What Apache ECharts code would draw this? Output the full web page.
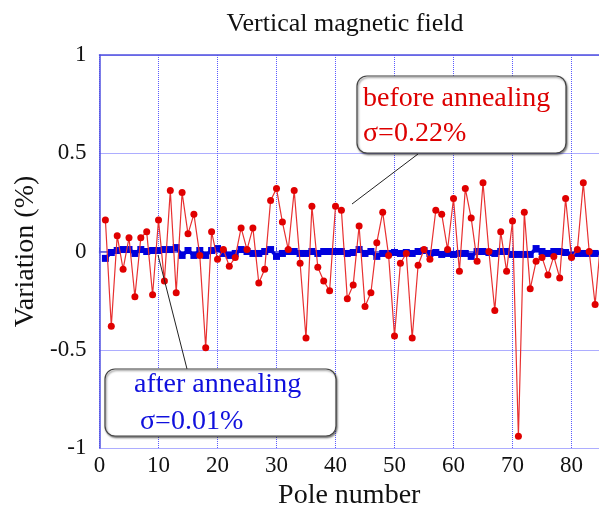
<!DOCTYPE html>
<html>
<head>
<meta charset="utf-8">
<script src="https://cdn.jsdelivr.net/npm/echarts@6/dist/echarts.min.js"></script>
<style>
html, body { margin: 0; padding: 0; background: #fff; }
#chart { width: 599px; height: 506px; }
</style>
</head>
<body>
<div id="chart"></div>
<script>
// variation (%) per pole
var beforeAnnealing = [
  0.16, -0.38, 0.08, -0.09, 0.07, -0.23, 0.07, 0.10, -0.22, 0.16,
  -0.15, 0.31, -0.21, 0.30, 0.09, 0.19, -0.02, -0.49, 0.10, -0.04,
  0.01, -0.075, -0.03, 0.12, 0.01, 0.12, -0.16, -0.09, 0.26, 0.32,
  0.15, 0.01, 0.31, -0.06, -0.44, 0.23, -0.08, -0.15, -0.20, 0.23,
  0.21, -0.24, -0.17, 0.13, -0.28, -0.21, 0.045, 0.20, -0.02, -0.43,
  -0.06, -0.01, -0.44, -0.07, 0.01, -0.04, 0.21, 0.19, 0.01, 0.27,
  -0.10, 0.32, 0.17, -0.05, 0.35, 0.0, -0.30, 0.10, -0.10, 0.155,
  -0.94, 0.20, -0.19, -0.05, -0.03, -0.12, -0.025, -0.135, 0.27, -0.03,
  0.01, 0.35, 0.0, -0.27, 0.07
];
var afterAnnealing = [
  -0.035, -0.005, 0.005, 0.01, 0.01, -0.01, 0.01, 0.0, 0.005, 0.005,
  0.01, 0.01, 0.02, -0.02, 0.005, -0.02, 0.005, -0.02, 0.005, 0.015,
  -0.01, -0.02, -0.01, 0.01, 0.0, -0.01, -0.01, 0.0, 0.01, -0.025,
  -0.01, 0.0, 0.0, -0.01, -0.01, 0.0, -0.01, 0.0, 0.0, 0.0,
  0.0, -0.01, -0.005, 0.01, -0.01, 0.0, -0.025, -0.01, -0.01, -0.005,
  -0.01, -0.005, -0.01, 0.0, 0.005, -0.01, -0.005, -0.015, -0.01, -0.015,
  -0.01, -0.01, -0.025, 0.0, 0.0, -0.005, -0.01, 0.0, 0.0, -0.015,
  -0.015, -0.015, -0.015, 0.015, 0.0, -0.01, 0.0, 0.0, -0.005, -0.02,
  -0.01, -0.01, -0.01, -0.01, -0.01
];
var yTicks = [-1, -0.5, 0, 0.5, 1];
var xMax = 84.66; // the plot runs off the right edge of the picture

var serif = 'Liberation Serif';
var blueAxis = '#5050e0';

var myChart = echarts.init(document.getElementById('chart'));
myChart.setOption({
  backgroundColor: '#fff',
  animation: false,
  title: {
    text: 'Vertical magnetic field',
    left: 340,
    top: 6,
    textAlign: 'center',
    textStyle: { fontFamily: serif, fontSize: 26, fontWeight: 'normal', color: '#111' }
  },
  grid: {
    left: 99.5,
    top: 55,
    bottom: 58,
    right: 0,
    outerBoundsMode: 'none',
    containLabel: false
  },
  xAxis: [
    {
      type: 'value',
      min: 0,
      max: xMax,
      interval: 10,
      name: 'Pole number',
      nameLocation: 'middle',
      nameGap: 34,
      nameTextStyle: { fontFamily: serif, fontSize: 28, color: '#111' },
      axisLine: { lineStyle: { color: blueAxis, width: 1.5 } },
      axisTick: { inside: true, length: 4, lineStyle: { color: blueAxis } },
      axisLabel: { fontFamily: serif, fontSize: 23, color: '#111', margin: 6, showMaxLabel: false },
      splitLine: { show: true, lineStyle: { color: '#5a5aff', type: [1, 1], width: 1 } }
    },
    {
      // top frame line only
      type: 'value',
      position: 'top',
      min: 0,
      max: xMax,
      interval: 10,
      axisLine: { lineStyle: { color: blueAxis, width: 1.5 } },
      axisTick: { show: false },
      axisLabel: { show: false },
      splitLine: { show: false }
    }
  ],
  yAxis: {
    type: 'value',
    min: yTicks[0],
    max: yTicks[yTicks.length - 1],
    interval: 0.5,
    name: 'Variation (%)',
    nameLocation: 'middle',
    nameGap: 60,
    nameTextStyle: { fontFamily: serif, fontSize: 28, color: '#111' },
    axisLine: { show: true, lineStyle: { color: blueAxis, width: 1.5 } },
    axisTick: { show: false },
    axisLabel: { fontFamily: serif, fontSize: 23, color: '#111', margin: 13 },
    splitLine: { show: true, lineStyle: { color: '#5a5aff', type: [1, 1], width: 1 } }
  },
  series: [
    {
      name: 'after annealing',
      type: 'line',
      data: afterAnnealing.map(function (v, i) { return [i + 1, v]; }),
      symbol: 'rect',
      symbolSize: 7,
      z: 2,
      lineStyle: { color: '#0000dd', width: 3.5 },
      itemStyle: { color: '#0000dd' }
    },
    {
      name: 'before annealing',
      type: 'line',
      data: beforeAnnealing.map(function (v, i) { return [i + 1, v]; }),
      symbol: 'circle',
      symbolSize: 7,
      z: 3,
      lineStyle: { color: '#e83030', width: 1.2 },
      itemStyle: { color: '#e00000' }
    }
  ],
  graphic: [
    { type: 'line', z: 10, shape: { x1: 352, y1: 204, x2: 418, y2: 154 }, style: { stroke: '#222', lineWidth: 1 } },
    { type: 'line', z: 10, shape: { x1: 158, y1: 255, x2: 187, y2: 369 }, style: { stroke: '#222', lineWidth: 1 } },
    {
      type: 'rect', z: 11,
      shape: { x: 357, y: 76, width: 209, height: 77, r: 10 },
      style: { fill: '#fff', stroke: '#444', lineWidth: 1.2, shadowBlur: 2, shadowOffsetX: 1, shadowOffsetY: 1.5, shadowColor: 'rgba(0,0,0,0.5)' }
    },
    { type: 'text', z: 12, left: 363, top: 84.5, style: { text: 'before annealing', font: '28px "Liberation Serif"', fill: '#dd0000' } },
    { type: 'text', z: 12, left: 363, top: 120, style: { text: 'σ=0.22%', font: '28px "Liberation Serif"', fill: '#dd0000' } },
    {
      type: 'rect', z: 11,
      shape: { x: 105, y: 369, width: 231, height: 67, r: 10 },
      style: { fill: '#fff', stroke: '#444', lineWidth: 1.2, shadowBlur: 2, shadowOffsetX: 1, shadowOffsetY: 1.5, shadowColor: 'rgba(0,0,0,0.5)' }
    },
    { type: 'text', z: 12, left: 134, top: 370.5, style: { text: 'after annealing', font: '28px "Liberation Serif"', fill: '#1010dd' } },
    { type: 'text', z: 12, left: 140, top: 407.5, style: { text: 'σ=0.01%', font: '28px "Liberation Serif"', fill: '#1010dd' } }
  ]
});
window.addEventListener('resize', function () {
  myChart.resize();
});
</script>
</body>
</html>
